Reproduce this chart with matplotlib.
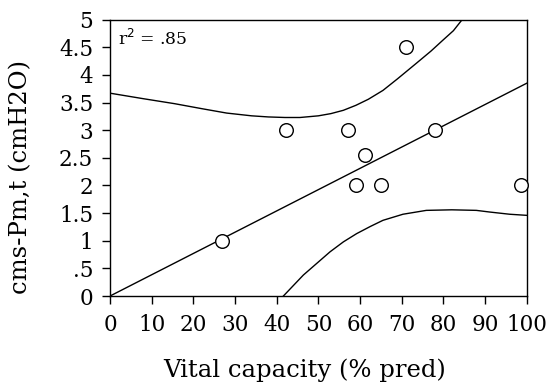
import matplotlib
matplotlib.use("Agg")
import matplotlib.pyplot as plt

# data points
vc = [27, 42.3, 57.1, 59, 61.3, 65, 71, 78, 98.5]
pm = [1.0, 3.0, 3.0, 2.0, 2.56, 2.0, 4.5, 3.0, 2.0]

# regression line
fit_x = [0, 100]
fit_y = [0, 3.85]

# confidence band, upper
up_x = [0, 8, 15.5, 22, 28, 34, 38, 42, 45.6, 50, 53, 56, 59, 62, 65.5, 69, 73.5, 77, 79.9, 82.4, 84.5]
up_y = [3.67, 3.57, 3.48, 3.39, 3.31, 3.26, 3.24, 3.23, 3.23, 3.26, 3.30, 3.36, 3.45, 3.56, 3.72, 3.93, 4.21, 4.43, 4.63, 4.80, 5.0]

# confidence band, lower
lo_x = [41.6, 46.4, 52.8, 56, 59.2, 62.5, 65.5, 70.3, 75.9, 82, 87.9, 91.1, 95.9, 100]
lo_y = [0.0, 0.38, 0.80, 0.98, 1.13, 1.26, 1.37, 1.48, 1.55, 1.56, 1.55, 1.52, 1.48, 1.46]

xticks = list(range(0, 101, 10))
yticks = [0, 0.5, 1, 1.5, 2, 2.5, 3, 3.5, 4, 4.5, 5]
ytick_labels = ['0', '.5', '1', '1.5', '2', '2.5', '3', '3.5', '4', '4.5', '5']

plt.rcParams['font.family'] = ['DejaVu Serif']

fig = plt.figure(figsize=(5.47, 3.85), dpi=100)
ax = fig.add_axes([0.201, 0.231, 0.762, 0.718])

ax.plot(fit_x, fit_y, color='black', lw=1.0)
ax.plot(up_x, up_y, color='black', lw=1.0)
ax.plot(lo_x, lo_y, color='black', lw=1.0)
ax.plot(vc, pm, 'o', mfc='white', mec='black', mew=1.0, ms=9.8, clip_on=False, zorder=3)

ax.set_xlim(0, 100)
ax.set_ylim(0, 5)
ax.set_xticks(xticks)
ax.set_yticks(yticks)
ax.set_yticklabels(ytick_labels)
ax.tick_params(direction='out', length=6, width=1.0, labelsize=15.5)
ax.tick_params(axis='x', pad=7)
ax.tick_params(axis='y', pad=6)
for s in ax.spines.values():
    s.set_linewidth(1.0)

ax.text(0.019, 0.908, r'r$^2$ = .85', transform=ax.transAxes, fontsize=12.3, va='baseline')

ax.set_xlabel('Vital capacity (% pred)', fontsize=17.5)
ax.xaxis.set_label_coords(0.466, -0.268)
ax.xaxis.label.set_va('center')
ax.set_ylabel('cms-Pm,t (cmH2O)', fontsize=17.5)
ax.yaxis.set_label_coords(-0.213, 0.43)
ax.yaxis.label.set_va('center')

fig.savefig('out.png', dpi=100)
